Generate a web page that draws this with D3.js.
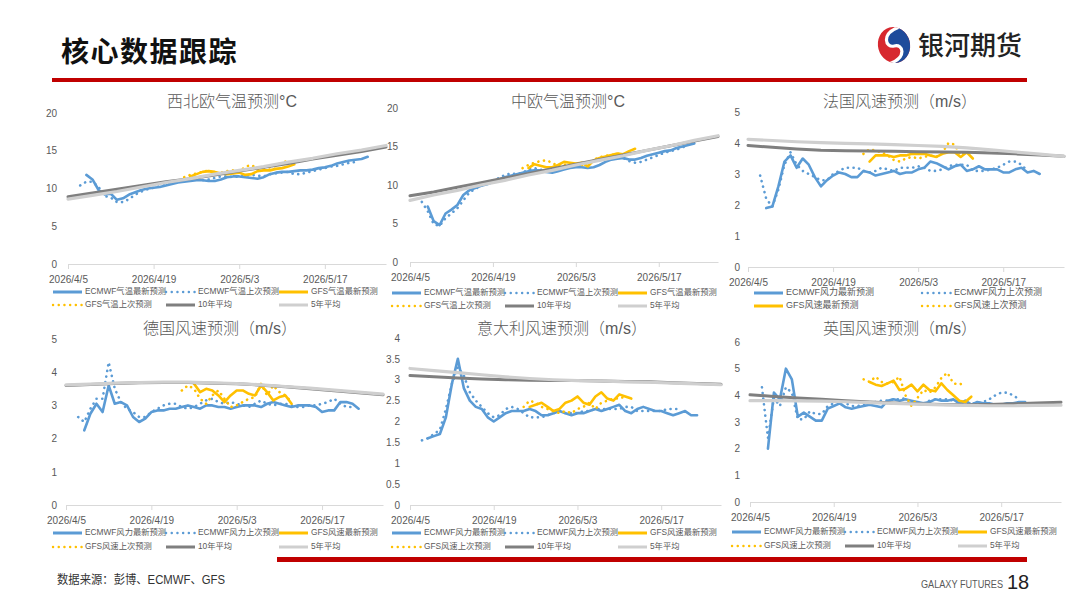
<!DOCTYPE html>
<html>
<head>
<meta charset="utf-8">
<script src="https://cdn.jsdelivr.net/npm/d3@7"></script>
<style>
  body { margin: 0; background: #fff; }
  svg { display: block; }
  text { font-family: 'Liberation Sans', 'Noto Sans CJK SC', sans-serif; }
</style>
</head>
<body>
<svg id="page" width="1080" height="608"></svg>
<script>
// ---- data ----
var xTickDates = ['2026-04-05', '2026-04-19', '2026-05-03', '2026-05-17'];
var axisStart = '2026-04-05', axisEnd = '2026-05-27';
var avgStart = '2026-04-05', avgStepDays = 4;

var tempLabels = ['ECMWF气温最新预测', 'ECMWF气温上次预测', 'GFS气温最新预测', 'GFS气温上次预测', '10年平均', '5年平均'];
var windLabels = ['ECMWF风力最新预测', 'ECMWF风力上次预测', 'GFS风速最新预测', 'GFS风速上次预测', '10年平均', '5年平均'];

// 西北欧气温
var nweEcLatest = [11.8, 11.2, 9.8, 9.2, 9.3, 8.5, 8.7, 9.2, 9.5, 9.8, 10.0, 10.1, 10.2, 10.4, 10.6, 10.8, 10.9, 11.0, 11.1, 11.1, 11.0, 11.0, 11.2, 11.5, 11.6, 11.6, 11.5, 11.4, 11.3, 11.5, 11.9, 12.1, 12.2, 12.2, 12.3, 12.4, 12.4, 12.5, 12.7, 12.8, 13.0, 13.3, 13.5, 13.7, 13.8, 13.9, 14.2];
var nweEcPrev = [10.4, 10.9, 10.9, 10.2, 9.0, 8.8, 8.2, 8.2, 8.6, 9.2, 9.6, 9.9, 10.1, 10.3, 10.5, 10.8, 11.0, 11.0, 11.1, 11.2, 11.1, 11.2, 11.4, 11.6, 11.6, 11.5, 11.6, 11.7, 11.8, 11.7, 11.6, 11.9, 12.0, 12.1, 12.2, 11.9, 11.9, 12.1, 12.3, 12.5, 12.7, 12.9, 13.0, 13.2, 13.4, 13.5];
var nweGfsLatest = [11.6, 11.9, 12.2, 12.3, 12.2, 12.0, 11.9, 12.0, 12.1, 11.8, 11.9, 12.3, 12.4, 12.4, 12.6, 12.7, 12.9, 13.2];
var nweGfsPrev = [11.5, 11.8, 12.0, 12.2, 12.4, 11.9, 12.1, 12.3, 12.4, 12.2, 12.9, 13.1, 12.6, 12.6, 12.8, 13.0, 13.5, 13.6];
var nweAvg10 = [8.9, 9.4, 9.9, 10.4, 10.9, 11.3, 11.8, 12.3, 12.8, 13.3, 13.9, 14.4, 14.9, 15.5];
var nweAvg5 = [8.6, 9.1, 9.6, 10.2, 10.8, 11.3, 11.9, 12.4, 12.9, 13.5, 14.0, 14.6, 15.1, 15.7];

// 中欧气温
var ceEcLatest = [7.2, 5.3, 4.8, 6.3, 6.8, 7.4, 8.7, 9.3, 9.6, 9.9, 10.1, 10.4, 10.7, 11.0, 11.2, 11.4, 11.6, 11.8, 11.9, 11.9, 11.7, 11.6, 11.8, 12.0, 12.2, 12.3, 12.3, 12.2, 12.3, 12.6, 13.0, 13.3, 13.4, 13.5, 13.3, 13.3, 13.5, 13.8, 14.0, 14.2, 14.4, 14.5, 14.8, 15.0, 15.2, 15.4];
var ceEcPrev = [7.8, 6.6, 4.9, 4.7, 5.7, 6.3, 7.0, 8.0, 9.0, 9.5, 9.9, 10.3, 10.6, 10.9, 11.3, 11.5, 11.4, 11.6, 12.0, 12.2, 12.0, 11.8, 11.9, 12.1, 12.4, 12.4, 12.5, 12.6, 12.9, 13.2, 13.4, 13.5, 13.6, 13.6, 13.5, 13.1, 12.9, 13.0, 13.3, 13.6, 13.9, 14.2, 14.4, 14.6, 14.9, 15.1];
var ceGfsLatest = [12.2, 12.7, 12.5, 12.3, 12.3, 12.6, 13.0, 12.9, 12.8, 12.9, 12.4, 13.2, 13.5, 13.7, 13.9, 14.1, 14.0, 14.4, 14.7];
var ceGfsPrev = [12.2, 12.6, 12.9, 13.1, 13.2, 12.9, 12.4, 12.6, 12.7, 12.7, 12.6, 12.5, 13.3, 13.6, 13.8, 13.9, 14.0, 14.2];
var ceAvg10 = [8.6, 9.1, 9.7, 10.3, 10.9, 11.5, 12.1, 12.7, 13.3, 13.9, 14.5, 15.1, 15.7, 16.3];
var ceAvg5 = [8.0, 8.7, 9.3, 10.0, 10.6, 11.3, 11.9, 12.6, 13.2, 13.8, 14.5, 15.1, 15.8, 16.4];

// 法国风速
var frEcLatest = [1.9, 1.95, 2.6, 3.4, 3.6, 3.2, 3.5, 3.3, 2.9, 2.6, 2.8, 2.95, 3.05, 3.0, 2.9, 2.9, 3.1, 3.05, 2.95, 3.0, 3.05, 3.1, 3.0, 3.05, 3.05, 3.15, 3.2, 3.4, 3.35, 3.25, 3.15, 3.25, 3.3, 3.1, 3.15, 3.25, 3.15, 3.15, 3.15, 3.05, 3.05, 3.15, 3.2, 3.05, 3.1, 3.0];
var frEcPrev = [2.95, 2.2, 1.95, 2.5, 3.3, 3.7, 3.3, 3.1, 3.0, 2.9, 2.8, 2.8, 3.0, 3.1, 3.2, 3.2, 3.2, 3.1, 3.05, 3.1, 3.2, 3.15, 3.1, 3.2, 3.2, 3.2, 3.25, 3.2, 3.1, 3.1, 3.15, 3.25, 3.3, 3.3, 3.3, 3.1, 3.1, 3.1, 3.15, 3.2, 3.3, 3.4, 3.4, 3.3, 3.1];
var frGfsLatest = [3.4, 3.6, 3.6, 3.6, 3.55, 3.6, 3.6, 3.65, 3.65, 3.65, 3.6, 3.55, 3.65, 3.7, 3.7, 3.55, 3.7, 3.5];
var frGfsPrev = [3.65, 3.8, 3.75, 3.7, 3.6, 3.45, 3.4, 3.5, 3.55, 3.5, 3.55, 3.6, 3.55, 3.7, 4.0, 3.95, 3.6, 3.75];
var frAvg10 = [3.92, 3.86, 3.81, 3.77, 3.75, 3.74, 3.73, 3.72, 3.71, 3.70, 3.68, 3.65, 3.61, 3.57];
var frAvg5 = [4.12, 4.08, 4.04, 4.01, 3.99, 3.97, 3.95, 3.92, 3.89, 3.84, 3.78, 3.71, 3.64, 3.57];

// 德国风速
var deEcLatest = [2.25, 2.75, 3.05, 2.8, 3.6, 3.05, 3.1, 3.0, 2.65, 2.5, 2.6, 2.8, 2.85, 2.85, 2.9, 2.9, 2.95, 3.0, 2.95, 2.9, 3.0, 3.0, 2.95, 2.95, 2.9, 2.95, 3.0, 3.0, 3.0, 2.95, 3.05, 3.1, 3.05, 3.0, 2.95, 3.0, 3.0, 3.0, 2.95, 2.8, 2.85, 2.85, 3.1, 3.1, 3.05, 2.9];
var deEcPrev = [2.65, 2.5, 2.9, 3.2, 3.2, 4.3, 3.5, 3.1, 2.9, 2.8, 2.65, 2.65, 2.8, 2.9, 3.0, 3.05, 3.05, 2.95, 2.9, 2.95, 3.05, 3.15, 3.2, 3.1, 3.05, 3.1, 3.05, 3.0, 2.95, 3.05, 3.15, 3.05, 3.0, 3.05, 3.05, 3.0, 2.95, 2.95, 3.0, 3.0, 3.05, 3.1, 3.2, 3.05, 2.95, 2.95];
var deGfsLatest = [3.65, 3.4, 3.5, 3.45, 3.3, 3.1, 3.3, 3.45, 3.45, 3.35, 3.3, 3.6, 3.4, 3.15, 3.25, 3.3, 3.05];
var deGfsPrev = [3.45, 3.6, 3.5, 3.2, 3.05, 3.3, 3.45, 3.2, 2.95, 3.0, 3.1, 3.2, 3.25, 3.65, 3.3, 3.6, 3.4, 3.3, 3.1];
var deAvg10 = [3.60, 3.63, 3.66, 3.68, 3.69, 3.69, 3.67, 3.65, 3.61, 3.56, 3.50, 3.44, 3.38, 3.32];
var deAvg5 = [3.62, 3.64, 3.67, 3.69, 3.70, 3.70, 3.68, 3.66, 3.62, 3.57, 3.52, 3.46, 3.40, 3.34];

// 意大利风速
var itEcLatest = [1.6, 1.65, 1.7, 2.1, 2.9, 3.5, 2.8, 2.5, 2.35, 2.3, 2.1, 2.0, 2.1, 2.2, 2.25, 2.25, 2.25, 2.3, 2.25, 2.15, 2.15, 2.2, 2.25, 2.2, 2.15, 2.2, 2.2, 2.25, 2.3, 2.25, 2.3, 2.35, 2.4, 2.25, 2.2, 2.3, 2.35, 2.3, 2.25, 2.25, 2.2, 2.15, 2.2, 2.25, 2.15, 2.15];
var itEcPrev = [1.55, 1.6, 1.7, 1.8, 2.3, 2.9, 3.3, 3.1, 2.7, 2.5, 2.35, 2.2, 2.1, 2.15, 2.3, 2.35, 2.3, 2.2, 2.1, 2.1, 2.1, 2.15, 2.2, 2.25, 2.2, 2.2, 2.2, 2.25, 2.25, 2.3, 2.3, 2.3, 2.3, 2.3, 2.35, 2.35, 2.25, 2.25, 2.25, 2.25, 2.25, 2.3, 2.3, 2.3];
var itGfsLatest = [2.35, 2.4, 2.45, 2.35, 2.25, 2.3, 2.45, 2.5, 2.6, 2.45, 2.4, 2.6, 2.7, 2.55, 2.5, 2.65, 2.6, 2.55];
var itGfsPrev = [2.35, 2.5, 2.45, 2.35, 2.3, 2.25, 2.2, 2.25, 2.2, 2.3, 2.35, 2.45, 2.3, 2.45, 2.5, 2.55, 2.55, 2.6];
var itAvg10 = [3.10, 3.07, 3.04, 3.02, 3.00, 2.99, 2.98, 2.98, 2.97, 2.96, 2.95, 2.93, 2.91, 2.89];
var itAvg5 = [3.27, 3.22, 3.17, 3.12, 3.07, 3.03, 3.00, 2.98, 2.97, 2.95, 2.94, 2.92, 2.90, 2.88];

// 英国风速
var ukEcLatest = [2.0, 4.1, 3.85, 5.0, 4.6, 3.2, 3.35, 3.2, 3.05, 3.05, 3.5, 3.6, 3.7, 3.55, 3.5, 3.55, 3.6, 3.65, 3.6, 3.55, 3.8, 3.85, 3.8, 3.85, 3.8, 3.75, 3.7, 3.75, 3.85, 3.8, 3.8, 3.85, 3.7, 3.8, 3.65, 3.75, 3.7, 3.7, 3.65, 3.65, 3.7, 3.7, 3.75, 3.75];
var ukEcPrev = [4.3, 2.4, 3.9, 3.6, 4.3, 4.1, 3.1, 3.1, 3.4, 3.3, 3.3, 3.6, 3.7, 3.8, 3.7, 3.6, 3.6, 3.65, 3.7, 3.75, 3.8, 3.8, 3.85, 3.85, 3.9, 3.7, 3.75, 3.7, 3.8, 3.85, 3.85, 3.85, 3.8, 3.75, 3.7, 3.7, 3.7, 3.75, 3.85, 4.0, 4.1, 4.1, 4.0, 3.85];
var ukGfsLatest = [4.5, 4.4, 4.35, 4.45, 4.55, 4.2, 4.25, 4.4, 4.15, 4.4, 4.2, 4.15, 4.45, 4.2, 4.0, 3.8, 3.75, 3.95];
var ukGfsPrev = [4.6, 4.5, 4.7, 4.5, 4.45, 4.5, 4.7, 4.0, 3.6, 3.9, 4.2, 4.1, 4.3, 4.65, 4.85, 4.45, 4.4, 4.5];
var ukAvg10 = [4.02, 3.96, 3.90, 3.85, 3.80, 3.75, 3.71, 3.68, 3.66, 3.65, 3.66, 3.68, 3.71, 3.74];
var ukAvg5 = [3.80, 3.80, 3.79, 3.78, 3.76, 3.73, 3.70, 3.67, 3.64, 3.62, 3.61, 3.61, 3.62, 3.63];

// first date of each forecast series
var ecLatestStart = '2026-04-08', ecPrevStart = '2026-04-07';
var gfsLatestStart = '2026-04-25', gfsPrevStart = '2026-04-24';
var deGfsLatestStart = '2026-04-26', ceGfsLatestStart = '2026-04-25';

// ---- styles ----
var C_BLUE = '#5B9BD5', C_YELLOW = '#FFC000', C_DARK = '#7F7F7F', C_LIGHT = '#CFCFCF';
var C_TEXT = '#595959', C_AXIS = '#D9D9D9', C_RED = '#C00000';
var styles = [
    {color: C_BLUE, width: 2.6, dotted: false},
    {color: C_BLUE, width: 2.6, dotted: true},
    {color: C_YELLOW, width: 2.6, dotted: false},
    {color: C_YELLOW, width: 2.6, dotted: true},
    {color: C_DARK, width: 3, dotted: false},
    {color: C_LIGHT, width: 3.2, dotted: false}
];

var parse = d3.utcParse('%Y-%m-%d');

function points(start, values, step) {
    step = step || 1;
    var d0 = parse(start);
    return values.map(function(v, i) {
        return {date: d3.utcDay.offset(d0, i * step), v: v};
    });
}

function makeSeries(ecL, ecP, gL, gP, a10, a5, gLStart) {
    return [
        points(ecLatestStart, ecL),
        points(ecPrevStart, ecP),
        points(gLStart || gfsLatestStart, gL),
        points(gfsPrevStart, gP),
        points(avgStart, a10, avgStepDays),
        points(avgStart, a5, avgStepDays)
    ];
}

// panel layout
var panels = [
    {title: '西北欧气温预测°C', x0: 68, x1: 386, yB: 264, yT: 113, yMax: 20, yStep: 5,
     titleX: 232, titleY: 103, labelR: 57, legX: [53, 166, 279], legY: [292, 305], legFont: 8.3,
     labels: tempLabels, nLeg: 6,
     series: makeSeries(nweEcLatest, nweEcPrev, nweGfsLatest, nweGfsPrev, nweAvg10, nweAvg5)},
    {title: '中欧气温预测°C', x0: 410, x1: 718, yB: 262, yT: 108, yMax: 20, yStep: 5,
     titleX: 568, titleY: 103, labelR: 398, legX: [392, 505, 618], legY: [293, 306], legFont: 8.3,
     labels: tempLabels, nLeg: 6,
     series: makeSeries(ceEcLatest, ceEcPrev, ceGfsLatest, ceGfsPrev, ceAvg10, ceAvg5, ceGfsLatestStart)},
    {title: '法国风速预测（m/s）', x0: 748, x1: 1064, yB: 267, yT: 112, yMax: 5, yStep: 1,
     titleX: 900, titleY: 103, labelR: 740, legX: [754, 922], legY: [293, 306], legFont: 9,
     labels: windLabels, nLeg: 4,
     series: makeSeries(frEcLatest, frEcPrev, frGfsLatest, frGfsPrev, frAvg10, frAvg5)},
    {title: '德国风速预测（m/s）', x0: 66, x1: 383, yB: 505, yT: 339, yMax: 5, yStep: 1,
     titleX: 220, titleY: 330, labelR: 57, legX: [53, 166, 279], legY: [533, 547], legFont: 8.3,
     labels: windLabels, nLeg: 6,
     series: makeSeries(deEcLatest, deEcPrev, deGfsLatest, deGfsPrev, deAvg10, deAvg5, deGfsLatestStart)},
    {title: '意大利风速预测（m/s）', x0: 410, x1: 721, yB: 505, yT: 338, yMax: 4, yStep: 0.5,
     titleX: 562, titleY: 330, labelR: 400, legX: [392, 505, 618], legY: [533, 547], legFont: 8.3,
     labels: windLabels, nLeg: 6,
     series: makeSeries(itEcLatest, itEcPrev, itGfsLatest, itGfsPrev, itAvg10, itAvg5)},
    {title: '英国风速预测（m/s）', x0: 750, x1: 1061, yB: 502, yT: 342, yMax: 6, yStep: 1,
     titleX: 900, titleY: 330, labelR: 740, legX: [732, 845, 958], legY: [532, 546], legFont: 8.3,
     labels: windLabels, nLeg: 6,
     series: makeSeries(ukEcLatest, ukEcPrev, ukGfsLatest, ukGfsPrev, ukAvg10, ukAvg5)}
];

var svg = d3.select('#page');
svg.append('rect').attr('width', 1080).attr('height', 608).attr('fill', '#fff');

// ---- header ----
svg.append('text')
    .attr('x', 61).attr('y', 62)
    .attr('font-family', "'Noto Sans CJK SC', sans-serif")
    .attr('font-size', 28).attr('font-weight', 'bold')
    .attr('letter-spacing', 1.5)
    .attr('fill', '#111')
    .text('核心数据跟踪');

var logo = svg.append('g').attr('transform', 'translate(894,45) rotate(-15)');
var clip = svg.append('defs').append('clipPath').attr('id', 'logoClip');
clip.append('ellipse').attr('rx', 16).attr('ry', 18);
logo.append('ellipse').attr('rx', 16).attr('ry', 18).attr('fill', '#D7282F');
logo.append('path')
    .attr('clip-path', 'url(#logoClip)')
    .attr('d', 'M9,-16 C-10,-14 -9,1 0,1 C9,1 10,15 -9,17 L22,22 L22,-22 Z')
    .attr('fill', '#1E4B9B');
logo.append('path')
    .attr('clip-path', 'url(#logoClip)')
    .attr('d', 'M9,-16 C-10,-14 -9,1 0,1 C9,1 10,15 -9,17')
    .attr('fill', 'none').attr('stroke', '#fff').attr('stroke-width', 3.2);
svg.append('text')
    .attr('x', 918).attr('y', 55)
    .attr('font-family', "'Noto Sans CJK SC', sans-serif")
    .attr('font-size', 26).attr('font-weight', 500)
    .attr('fill', '#222')
    .text('银河期货');

svg.append('rect').attr('x', 52).attr('y', 78).attr('width', 975).attr('height', 4).attr('fill', C_RED);

// ---- panels ----
panels.forEach(function(p) {
    var g = svg.append('g');
    var x = d3.scaleUtc().domain([parse(axisStart), parse(axisEnd)]).range([p.x0, p.x1]);
    var y = d3.scaleLinear().domain([0, p.yMax]).range([p.yB, p.yT]);

    g.append('text')
        .attr('x', p.titleX).attr('y', p.titleY)
        .attr('text-anchor', 'middle').attr('dominant-baseline', 'middle')
        .attr('font-family', "'Liberation Serif', 'Noto Sans CJK SC', serif")
        .attr('font-size', 16).attr('font-weight', 300).attr('fill', C_TEXT)
        .text(p.title);

    // y labels
    var yAxis = g.append('g')
        .attr('transform', 'translate(' + p.labelR + ',0)')
        .call(d3.axisLeft(y).tickValues(d3.range(0, p.yMax + 1e-9, p.yStep))
            .tickSize(0).tickPadding(0).tickFormat(function(d) { return String(+d.toFixed(1)); }));
    yAxis.select('.domain').remove();
    yAxis.selectAll('text').attr('fill', C_TEXT).attr('font-size', 10)
        .attr('font-family', "'Liberation Sans', sans-serif");

    // x axis
    var xAxis = g.append('g')
        .attr('transform', 'translate(0,' + p.yB + ')')
        .call(d3.axisBottom(x).tickValues(xTickDates.map(parse))
            .tickSizeInner(5).tickSizeOuter(0).tickPadding(7)
            .tickFormat(d3.utcFormat('%Y/%-m/%-d')));
    xAxis.select('.domain').attr('stroke', C_AXIS);
    xAxis.selectAll('line').attr('stroke', C_AXIS);
    xAxis.selectAll('text').attr('fill', C_TEXT).attr('font-size', 10)
        .attr('font-family', "'Liberation Sans', sans-serif");

    // lines
    var line = d3.line().x(function(d) { return x(d.date); }).y(function(d) { return y(d.v); });
    p.series.forEach(function(s, i) {
        var st = styles[i];
        var path = g.append('path')
            .datum(s)
            .attr('d', line)
            .attr('fill', 'none')
            .attr('stroke', st.color)
            .attr('stroke-width', st.width)
            .attr('stroke-linejoin', 'round')
            .attr('stroke-linecap', 'round');
        if (st.dotted) path.attr('stroke-dasharray', '0.1 5.6');
    });

    // legend
    var cols = p.legX.length;
    for (var i = 0; i < p.nLeg; i++) {
        var st = styles[i];
        var lx = p.legX[i % cols], ly = p.legY[Math.floor(i / cols)];
        var sample = g.append('line')
            .attr('x1', lx).attr('x2', lx + 29)
            .attr('y1', ly).attr('y2', ly)
            .attr('stroke', st.color)
            .attr('stroke-width', st.dotted ? 2.4 : 3)
            .attr('stroke-linecap', st.dotted ? 'round' : 'butt');
        if (st.dotted) sample.attr('stroke-dasharray', '0.1 5.6');
        g.append('text')
            .attr('x', lx + 32).attr('y', ly)
            .attr('dominant-baseline', 'middle')
            .attr('font-size', p.legFont).attr('fill', C_TEXT)
            .text(p.labels[i]);
    }
});

// ---- footer ----
svg.append('rect').attr('x', 277).attr('y', 557).attr('width', 750).attr('height', 5).attr('fill', C_RED);
svg.append('text')
    .attr('x', 57).attr('y', 584)
    .attr('font-family', "'Liberation Serif', 'Noto Sans CJK SC', serif")
    .attr('font-size', 12).attr('fill', '#333')
    .attr('textLength', 168).attr('lengthAdjust', 'spacingAndGlyphs')
    .text('数据来源：彭博、ECMWF、GFS');
svg.append('text')
    .attr('x', 921).attr('y', 588)
    .attr('font-family', "'Liberation Serif', serif")
    .attr('font-size', 10).attr('fill', C_TEXT)
    .attr('textLength', 82).attr('lengthAdjust', 'spacingAndGlyphs')
    .text('GALAXY FUTURES');
svg.append('text')
    .attr('x', 1007).attr('y', 589)
    .attr('font-family', "'Liberation Sans Narrow', 'Liberation Sans', sans-serif")
    .attr('font-size', 20).attr('fill', '#222')
    .text('18');
</script>
</body>
</html>
